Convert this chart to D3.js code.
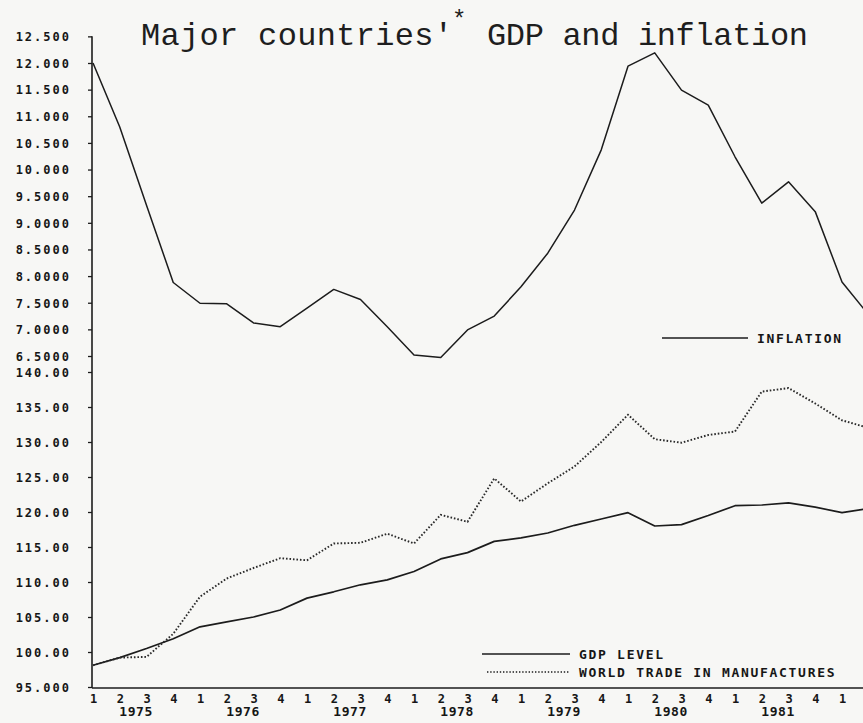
<!DOCTYPE html>
<html>
<head>
<meta charset="utf-8">
<script src="https://cdn.jsdelivr.net/npm/d3@7"></script>
<style>
  html, body { margin: 0; padding: 0; background: #f7f7f5; }
  svg { display: block; }
  .tick-label { font-family: "DejaVu Sans Mono", monospace; font-weight: bold; fill: #161616; }
  .legend-label { font-family: "DejaVu Sans Mono", monospace; font-weight: bold; fill: #161616; }
  .title text { font-family: "Liberation Mono", "Courier New", monospace; fill: #1e1e1e; }
</style>
</head>
<body>
<svg id="chart" width="863" height="723"></svg>
<script>
// Quarterly periods, 1975 Q1 to 1982 Q2
const years = [1975, 1976, 1977, 1978, 1979, 1980, 1981, 1982];
const quarterNames = ["1", "2", "3", "4"];
const periods = years.flatMap(y => quarterNames.map(q => ({ year: y, q })))
  .slice(0, 30);

// Inflation, per cent
const inflation = [
  12.0, 10.8, 9.33, 7.88,
  7.49, 7.48, 7.12, 7.05,
  7.40, 7.75, 7.56, 7.05,
  6.52, 6.47, 6.99, 7.25,
  7.80, 8.43, 9.24, 10.37,
  11.94, 12.19, 11.49, 11.21,
  10.24, 9.37, 9.77, 9.21,
  7.89, 7.27
];

// GDP level, index
const gdpLevel = [
  98.1, 99.2, 100.5, 101.9,
  103.6, 104.3, 105.0, 106.0,
  107.7, 108.6, 109.6, 110.3,
  111.5, 113.3, 114.2, 115.8,
  116.3, 117.0, 118.1, 119.0,
  119.9, 118.0, 118.2, 119.5,
  120.9, 121.0, 121.3, 120.7,
  119.9, 120.5
];

// World trade in manufactures, index
const worldTrade = [
  98.1, 99.2, 99.3, 102.6,
  107.9, 110.5, 112.0, 113.4,
  113.1, 115.5, 115.6, 116.9,
  115.5, 119.6, 118.6, 124.8,
  121.5, 124.1, 126.5, 130.0,
  133.9, 130.4, 129.9, 131.0,
  131.5, 137.2, 137.7, 135.5,
  133.1, 132.0
];

// Axis tick values
const inflationTicks = [12.5, 12.0, 11.5, 11.0, 10.5, 10.0, 9.5, 9.0, 8.5, 8.0, 7.5, 7.0, 6.5];
const indexTicks = [140, 135, 130, 125, 120, 115, 110, 105, 100, 95];
const yearLabels = [1975, 1976, 1977, 1978, 1979, 1980, 1981];
const quarterTickCount = 29; // 1975 Q1 .. 1982 Q1

const svg = d3.select("#chart");
const ink = "#1c1c1c";
const axisX = 92;
const baseY = 688;

const x = d3.scaleLinear().domain([0, 28]).range([93, 842]);
const yInf = d3.scaleLinear().domain([6.5, 12.0]).range([356, 63]);
const yIdx = d3.scaleLinear().domain([95, 140]).range([687, 372]);

const fmt = d3.format(".5r");

// Left axes (two stacked scales sharing one vertical rule)
function styleLeft(g) {
  g.select(".domain").remove();
  g.selectAll(".tick line").attr("stroke", ink).attr("stroke-width", 1.3);
  g.selectAll(".tick text")
    .attr("class", "tick-label")
    .attr("font-size", 12)
    .attr("letter-spacing", 2.0)
    .attr("dy", "0.36em");
}

svg.append("g")
  .attr("transform", `translate(${axisX},0)`)
  .call(d3.axisLeft(yInf).tickValues(inflationTicks).tickFormat(fmt).tickSize(4).tickPadding(17))
  .call(styleLeft);

svg.append("g")
  .attr("transform", `translate(${axisX},0)`)
  .call(d3.axisLeft(yIdx).tickValues(indexTicks).tickFormat(fmt).tickSize(4).tickPadding(17))
  .call(styleLeft);

svg.append("line")
  .attr("x1", axisX).attr("x2", axisX)
  .attr("y1", yInf(12.5)).attr("y2", baseY)
  .attr("stroke", ink).attr("stroke-width", 1.6);

// Bottom axis: quarter numbers with year labels beneath
const xAxis = d3.axisBottom(x)
  .tickValues(d3.range(quarterTickCount))
  .tickFormat(i => periods[i].q)
  .tickSize(0)
  .tickPadding(6);

const gx = svg.append("g")
  .attr("transform", `translate(0,${baseY})`)
  .call(xAxis);
gx.select(".domain").remove();
gx.selectAll(".tick text")
  .attr("class", "tick-label")
  .attr("font-size", 12);

svg.append("line")
  .attr("x1", axisX).attr("x2", 863)
  .attr("y1", baseY).attr("y2", baseY)
  .attr("stroke", ink).attr("stroke-width", 1.6);

svg.append("g").selectAll("text")
  .data(yearLabels)
  .join("text")
  .attr("class", "tick-label")
  .attr("font-size", 13)
  .attr("letter-spacing", 0.6)
  .attr("text-anchor", "middle")
  .attr("x", (d, i) => x(i * 4 + 1.5) + 3)
  .attr("y", 716)
  .text(d => d);

// Series lines
const lineInf = d3.line().x((d, i) => x(i)).y(d => yInf(d));
const lineIdx = d3.line().x((d, i) => x(i)).y(d => yIdx(d));

svg.append("path")
  .datum(inflation)
  .attr("d", lineInf)
  .attr("fill", "none")
  .attr("stroke", ink)
  .attr("stroke-width", 1.5)
  .attr("stroke-linejoin", "round");

svg.append("path")
  .datum(gdpLevel)
  .attr("d", lineIdx)
  .attr("fill", "none")
  .attr("stroke", ink)
  .attr("stroke-width", 1.7)
  .attr("stroke-linejoin", "round");

svg.append("path")
  .datum(worldTrade)
  .attr("d", lineIdx)
  .attr("fill", "none")
  .attr("stroke", "#2a2a2a")
  .attr("stroke-width", 1.9)
  .attr("stroke-dasharray", "1.6 1.9");

// Legends
const legend = [
  { label: "INFLATION", x1: 662, x2: 748, y: 338, dashed: false },
  { label: "GDP LEVEL", x1: 482, x2: 570, y: 654, dashed: false },
  { label: "WORLD TRADE IN MANUFACTURES", x1: 487, x2: 570, y: 672, dashed: true }
];

const lg = svg.append("g").selectAll("g").data(legend).join("g");
lg.append("line")
  .attr("x1", d => d.x1).attr("x2", d => d.x2)
  .attr("y1", d => d.y).attr("y2", d => d.y)
  .attr("stroke", ink)
  .attr("stroke-width", d => d.dashed ? 1.5 : 1.4)
  .attr("stroke-dasharray", d => d.dashed ? "1.4 1.8" : null);
lg.append("text")
  .attr("class", "legend-label")
  .attr("font-size", 13)
  .attr("letter-spacing", 1.7)
  .attr("x", d => d.x2 + 9)
  .attr("y", d => d.y + 4.5)
  .text(d => d.label);

// Title in a typewriter face, with a raised asterisk
const title = svg.append("g").attr("class", "title");
title.append("text")
  .attr("x", 141).attr("y", 45)
  .attr("font-size", 32)
  .attr("textLength", 312)
  .attr("lengthAdjust", "spacing")
  .text("Major countries'");
title.append("text")
  .attr("x", 452).attr("y", 27)
  .attr("font-size", 24)
  .text("*");
title.append("text")
  .attr("x", 487).attr("y", 45)
  .attr("font-size", 32)
  .attr("textLength", 321)
  .attr("lengthAdjust", "spacing")
  .text("GDP and inflation");
</script>
</body>
</html>
